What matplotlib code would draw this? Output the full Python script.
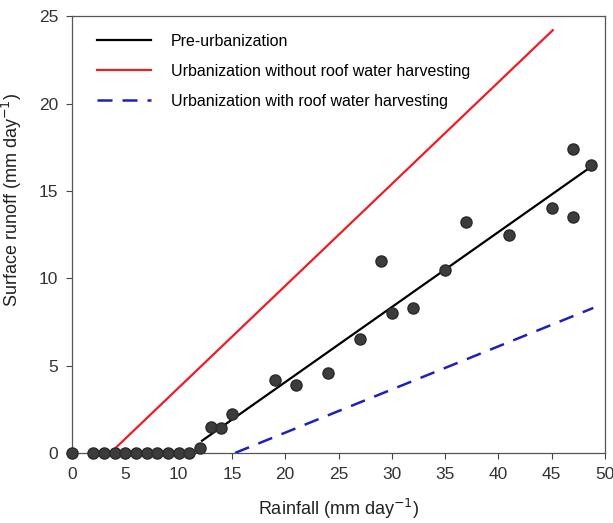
import matplotlib as mpl
mpl.use('Agg')
import matplotlib.pyplot as plt

# observed rainfall / runoff points
rain = [0, 2, 3, 4, 5, 6, 7, 8, 9, 10, 11, 12, 13, 14, 15, 19, 21, 24, 27,
        29, 30, 32, 35, 37, 41, 45, 47, 47, 48.7]
runoff = [0, 0, 0, 0, 0, 0, 0, 0, 0, 0, 0, 0.3, 1.5, 1.4, 2.2, 4.2, 3.9, 4.6,
          6.5, 11.0, 8.0, 8.3, 10.5, 13.2, 12.5, 14.0, 13.5, 17.4, 16.5]

# fitted / scenario lines (end points)
pre_x = [12.2, 48.5]
pre_y = [0.7, 16.3]
urb_x = [3.6, 45.1]
urb_y = [0.0, 24.2]
rwh_x = [15.3, 48.9]
rwh_y = [0.0, 8.3]

xticks = [0, 5, 10, 15, 20, 25, 30, 35, 40, 45, 50]
yticks = [0, 5, 10, 15, 20, 25]

plt.rcParams['font.family'] = ['Liberation Sans', 'DejaVu Sans']

fig = plt.figure(figsize=(6.13, 5.23), dpi=100)
ax = fig.add_axes([0.1175, 0.134, 0.8695, 0.835])

ax.plot(pre_x, pre_y, color='black', lw=1.6, label='Pre-urbanization')
ax.plot(urb_x, urb_y, color='#ee1c24', lw=1.6,
        label='Urbanization without roof water harvesting')
ax.plot(rwh_x, rwh_y, color='#1f1fbf', lw=1.8, ls=(0, (6, 4)),
        label='Urbanization with roof water harvesting')
ax.plot(rain, runoff, 'o', ms=8, color='#3c3c3c', mec='#2a2a2a',
        clip_on=False, zorder=3)

ax.set_xlim(0, 50)
ax.set_ylim(0, 25)
ax.set_xticks(xticks)
ax.set_yticks(yticks)
ax.tick_params(direction='out', length=4, width=0.8, labelsize=12.5,
               colors='#444444', labelcolor='#333333', pad=6)
for s in ax.spines.values():
    s.set_color('#555555')
    s.set_linewidth(0.9)

ax.set_xlabel('Rainfall (mm day$^{-1}$)', fontsize=13, labelpad=11,
              color='#222222')
ax.set_ylabel('Surface runoff (mm day$^{-1}$)', fontsize=13,
              color='#222222')
ax.yaxis.set_label_coords(-0.09, 0.58)

ax.legend(loc='upper left', frameon=False, fontsize=11.5, handlelength=3.4,
          handletextpad=1.2, labelspacing=0.95, borderaxespad=0.0,
          bbox_to_anchor=(0.035, 0.975))

fig.savefig('out.png', dpi=100)
